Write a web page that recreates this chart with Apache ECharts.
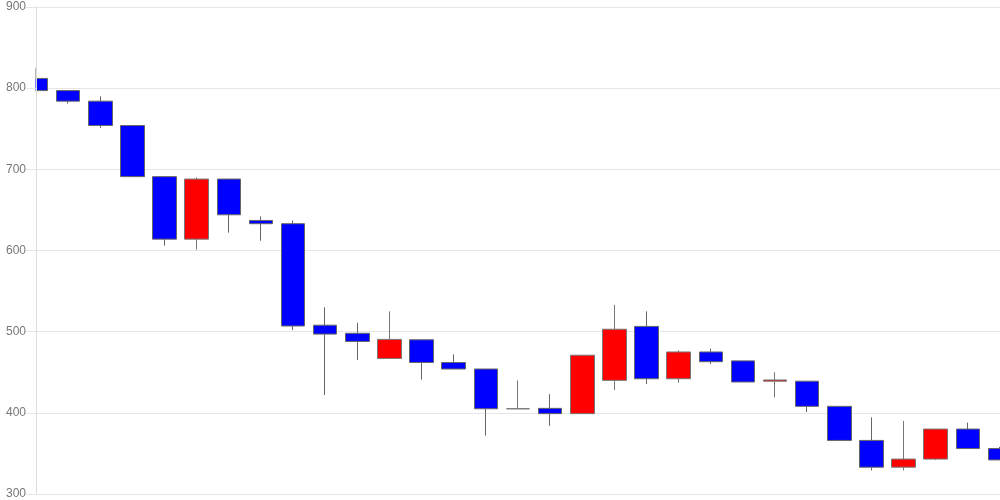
<!DOCTYPE html>
<html><head><meta charset="utf-8">
<script src="https://cdn.jsdelivr.net/npm/echarts@6/dist/echarts.min.js"></script>
<style>html,body{margin:0;padding:0;background:#fff}#c{width:1000px;height:500px}</style>
</head><body><div id="c"></div>
<script>
var categories = ['1','2','3','4','5','6','7','8','9','10','11','12','13','14','15','16','17','18','19','20','21','22','23','24','25','26','27','28','29','30','31'];
var openVals  = [812,797,784,754,691,614,688,637,633,508,498,467,490,462,454,405,405.5,399,440,506.5,442,475,464,439,439,408,366,333,343,380,356];
var closeVals = [797,784,754,691,614,688,644,633,507,497,488,490.5,462,454,405,405,399,471,503,442,475,463,438,440.5,408,366,333,343,380,356,342];
var lowVals   = [797,781,751,691,606,601,622,612,502,422,465,467,441,454,372,405,384,399,428,435.5,437,460,438,419,401,366,329,329,342,356,342];
var highVals  = [825,797,790,754,691,690,688,642,637,530,511,525,490,472,454,440,423,471,533,525,477,479,464,450,439,408,394.5,390,380,388,358];
var yTicks = {min:300, max:900, interval:100};

var data = categories.map(function(c,i){return [openVals[i], closeVals[i], lowVals[i], highVals[i]];});
var chart = echarts.init(document.getElementById('c'), null, {renderer:'canvas'});
chart.setOption({
  animation:false,
  grid:{left:36,right:0,top:7,bottom:6},
  graphic:[{type:'rect',left:0,top:0,z:5,shape:{width:35.5,height:500},style:{fill:'#fff'},silent:true}],
  xAxis:{type:'category',data:categories,boundaryGap:false,
    axisLine:{show:false},axisTick:{show:false},axisLabel:{show:false},splitLine:{show:false}},
  yAxis:[
    {type:'value',min:yTicks.min,max:yTicks.max,interval:yTicks.interval,position:'left',z:0,
      axisLine:{show:false},axisTick:{show:false},axisLabel:{show:false},
      splitLine:{show:true,lineStyle:{color:'#e6e6e6'}}},
    {type:'value',min:yTicks.min,max:yTicks.max,interval:yTicks.interval,position:'left',offset:0,z:10,
      axisLine:{show:true,lineStyle:{color:'#ddd'}},
      axisTick:{show:true,length:10,lineStyle:{color:'#e6e6e6'}},
      axisLabel:{color:'#777',fontSize:12,margin:10,fontFamily:'Liberation Sans, Arial, sans-serif'},
      splitLine:{show:false}}
  ],
  series:[{type:'candlestick',data:data,barWidth:24,z:2,yAxisIndex:0,
    itemStyle:{color:'#ff0000',color0:'#0000ff',borderColor:'#777',borderColor0:'#666',borderWidth:1}}]
});
</script></body></html>
